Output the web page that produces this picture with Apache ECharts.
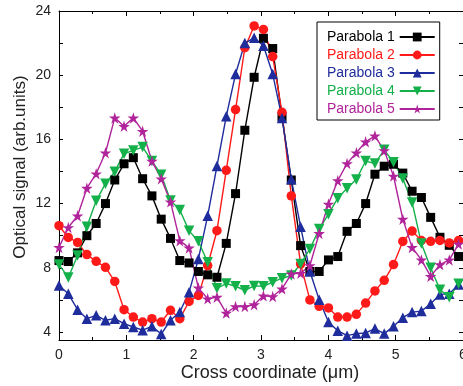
<!DOCTYPE html>
<html>
<head>
<meta charset="utf-8">
<script src="https://cdn.jsdelivr.net/npm/echarts@6/dist/echarts.min.js"></script>
<style>html,body{margin:0;padding:0;background:#fff;}#c{width:463px;height:386px;}</style>
</head>
<body>
<div id="c"></div>
<script>
// Cross coordinate (µm) sample positions
const xs = [0, 0.138, 0.276, 0.414, 0.552, 0.69, 0.828, 0.966, 1.104, 1.242, 1.38, 1.518, 1.656, 1.794, 1.932, 2.07, 2.208, 2.346, 2.484, 2.622, 2.76, 2.898, 3.036, 3.174, 3.312, 3.45, 3.588, 3.726, 3.864, 4.002, 4.14, 4.278, 4.416, 4.554, 4.692, 4.83, 4.968, 5.106, 5.244, 5.382, 5.52, 5.658, 5.796, 5.934];

const parabola1 = [8.45, 8.39, 8.93, 10.0, 10.76, 12.0, 13.47, 14.48, 14.86, 13.55, 12.48, 11.03, 9.83, 8.45, 8.30, 7.77, 7.56, 7.41, 9.52, 12.62, 16.57, 19.87, 22.3, 21.66, 17.4, 13.47, 9.38, 7.77, 7.77, 8.49, 8.70, 10.27, 10.76, 12.0, 13.83, 14.33, 14.45, 13.9, 12.77, 12.38, 11.14, 9.9, 9.4, 8.70];
const parabola2 = [10.62, 9.89, 9.58, 8.82, 8.40, 8.03, 7.15, 5.39, 4.93, 4.62, 4.83, 4.62, 5.35, 4.83, 5.90, 6.28, 8.14, 10.31, 14.07, 17.86, 21.71, 23.07, 22.85, 21.16, 17.69, 12.48, 8.24, 6.0, 5.6, 5.5, 4.93, 4.93, 5.1, 5.8, 6.56, 7.22, 8.2, 9.64, 10.29, 9.7, 9.65, 9.7, 9.55, 9.7];
const parabola3 = [6.90, 6.38, 5.39, 4.83, 5.04, 4.73, 4.83, 4.52, 4.31, 4.11, 4.35, 3.87, 4.73, 5.24, 6.48, 8.55, 11.24, 14.34, 17.44, 20.07, 22.0, 22.33, 21.84, 20.07, 17.34, 13.52, 10.56, 7.77, 6.01, 4.62, 4.08, 3.77, 3.9, 3.94, 4.21, 3.9, 4.35, 4.89, 5.24, 5.30, 5.76, 6.34, 6.38, 6.96];
const parabola4 = [8.2, 7.4, 8.76, 10.56, 12.17, 13.24, 13.99, 15.11, 15.31, 15.52, 14.65, 13.8, 12.2, 11.6, 10.3, 9.65, 8.34, 6.72, 7.02, 6.85, 6.6, 6.87, 6.85, 7.1, 7.35, 7.52, 8.24, 9.17, 10.41, 11.34, 12.34, 12.96, 13.5, 14.65, 14.5, 15.35, 14.58, 13.56, 12.07, 9.52, 8.0, 6.63, 6.17, 7.0];
const parabola5 = [9.27, 10.51, 11.24, 12.96, 13.86, 15.17, 17.34, 16.82, 17.34, 16.51, 14.65, 13.55, 12.11, 9.69, 9.24, 6.75, 6.07, 6.17, 5.18, 5.59, 5.59, 5.70, 6.25, 6.21, 6.69, 7.62, 7.66, 8.14, 10.14, 11.97, 13.43, 14.5, 15.17, 15.85, 16.22, 15.3, 13.72, 11.03, 9.27, 8.49, 7.47, 8.20, 8.49, 9.48];

const seriesNames = ['Parabola 1', 'Parabola 2', 'Parabola 3', 'Parabola 4', 'Parabola 5'];
const xTickLabels = [0, 1, 2, 3, 4, 5, 6];
const yTickLabels = [4, 8, 12, 16, 20, 24];
const yTicks = [4, 6, 8, 10, 12, 14, 16, 18, 20, 22, 24];

const colors = ['#000000', '#ff1a1a', '#1f2c9c', '#14b04a', '#b0239a'];
const STAR = 'path://M50,0 L61,35 L98,35 L68,57 L79,91 L50,70 L21,91 L32,57 L2,35 L39,35 Z';
const symbols = ['rect', 'circle', 'triangle', 'triangle', STAR];
const symRot = [0, 0, 0, 180, 0];
const symSize = [9, 9.5, 10.5, 10.5, 11.5];
const allData = [parabola1, parabola2, parabola3, parabola4, parabola5];

const FONT = '"Liberation Sans", Arial, sans-serif';

const chart = echarts.init(document.getElementById('c'), null, {renderer: 'canvas'});

const series = allData.map((vals, k) => ({
  name: seriesNames[k],
  type: 'line',
  xAxisIndex: 0,
  yAxisIndex: 0,
  data: xs.map((x, i) => [x, vals[i]]),
  symbol: symbols[k],
  symbolRotate: symRot[k],
  symbolSize: symSize[k],
  showAllSymbol: true,
  clip: false,
  color: colors[k],
  lineStyle: {color: colors[k], width: 1.4},
  itemStyle: {color: colors[k], borderWidth: 0},
  emphasis: {disabled: true},
  animation: false
}));

const axisCommon = {
  axisLine: {show: true, onZero: false, lineStyle: {color: '#000', width: 1}},
  splitLine: {show: false}
};

chart.setOption({
  animation: false,
  backgroundColor: '#fff',
  grid: {left: 59, right: 0, top: 11, bottom: 46, containLabel: false, outerBoundsMode: 'none'},
  xAxis: [
    Object.assign({}, axisCommon, {
      type: 'value', min: 0, max: 6, interval: 1, position: 'bottom',
      axisTick: {show: true, inside: true, length: 5, lineStyle: {color: '#000'}},
      minorTick: {show: true, splitNumber: 2, length: 3, lineStyle: {color: '#000'}},
      axisLabel: {show: true, margin: 8, color: '#222', fontSize: 14, fontFamily: FONT,
        customValues: xTickLabels}
    }),
    Object.assign({}, axisCommon, {
      type: 'value', min: 0, max: 6, interval: 1, position: 'top',
      axisTick: {show: true, inside: true, length: 5, lineStyle: {color: '#000'}},
      minorTick: {show: true, splitNumber: 2, length: 3, lineStyle: {color: '#000'}},
      axisLabel: {show: false}
    })
  ],
  yAxis: [
    Object.assign({}, axisCommon, {
      type: 'value', min: 3.5, max: 24, position: 'left',
      axisTick: {show: true, inside: true, length: 4, lineStyle: {color: '#000'}, customValues: yTicks},
      axisLabel: {show: true, margin: 8, color: '#222', fontSize: 14, fontFamily: FONT, customValues: yTickLabels}
    }),
    Object.assign({}, axisCommon, {
      type: 'value', min: 3.5, max: 24, position: 'right',
      axisTick: {show: true, inside: true, length: 4, lineStyle: {color: '#000'}, customValues: yTicks},
      axisLabel: {show: false}
    })
  ],
  legend: {
    orient: 'vertical',
    left: 317,
    top: 22,
    align: 'right',
    itemWidth: 35,
    itemHeight: 11,
    itemGap: 4,
    padding: [8, 4, 4, 10],
    backgroundColor: '#fff',
    borderColor: '#000',
    borderWidth: 1,
    borderRadius: 0,
    selectedMode: false,
    textStyle: {fontSize: 14, fontFamily: FONT},
    data: seriesNames.map((n, k) => ({name: n, textStyle: {color: colors[k], fontSize: 14, fontFamily: FONT}}))
  },
  graphic: [
    {
      type: 'text', x: 20, y: 167, rotation: Math.PI / 2,
      style: {text: 'Optical signal (arb.units)', font: '17px ' + FONT, fill: '#222', textAlign: 'center', textVerticalAlign: 'middle'}
    },
    {
      type: 'text', x: 270, y: 373,
      style: {text: 'Cross coordinate (\u03bcm)', font: '18px ' + FONT, fill: '#222', textAlign: 'center', textVerticalAlign: 'middle'}
    }
  ],
  series: series
});
</script>
</body>
</html>
